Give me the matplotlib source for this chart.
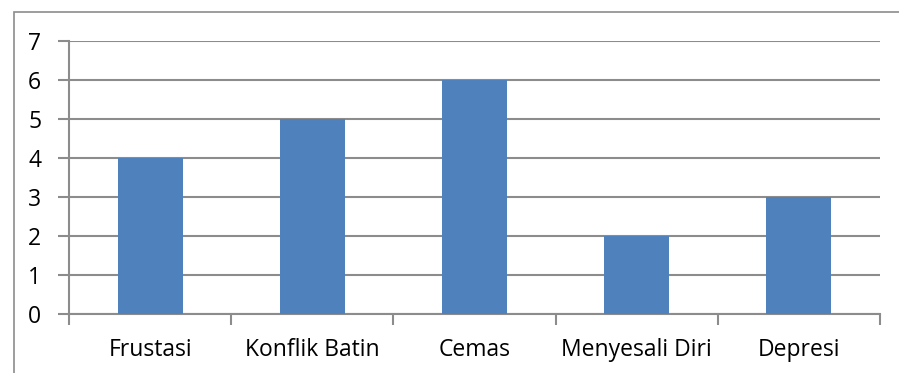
import numpy as np
import matplotlib.pyplot as plt
from matplotlib.patches import Rectangle

categories = ['Frustasi', 'Konflik Batin', 'Cemas', 'Menyesali Diri', 'Depresi']
values = [4, 5, 6, 2, 3]
yticks = [0, 1, 2, 3, 4, 5, 6, 7]

grid_color = '#8c8c8c'
bar_color = '#4f81bd'

plt.rcParams['font.family'] = ['Open Sans', 'DejaVu Sans']

W, H = 899, 373
fig = plt.figure(figsize=(W / 100, H / 100), dpi=100)
ax = fig.add_axes([69 / W, 1 - 314 / H, (880 - 69) / W, (314 - 41) / H])

x = np.arange(len(categories))
ax.bar(x, values, width=0.4, color=bar_color, zorder=3)

ax.set_xlim(-0.5, len(categories) - 0.5)
ax.set_ylim(0, 7)
ax.set_yticks(yticks)
ax.yaxis.grid(True, color=grid_color, linewidth=1.5, zorder=0)

# category labels sit between boundary ticks
ax.set_xticks(x)
ax.set_xticklabels(categories)
ax.tick_params(axis='x', length=0, labelsize=16.5, pad=17)
ax.set_xticks(np.arange(len(categories) + 1) - 0.5, minor=True)
ax.tick_params(axis='x', which='minor', length=8, width=1.5, color=grid_color)
ax.tick_params(axis='y', length=8, width=1.5, color=grid_color, labelsize=16.5, pad=12)

for side in ['top', 'right']:
    ax.spines[side].set_visible(False)
for side in ['left', 'bottom']:
    ax.spines[side].set_color(grid_color)
    ax.spines[side].set_linewidth(1.5)

# outer chart frame, clipped by the canvas on the right and bottom
fig.patches.append(Rectangle((14 / W, -0.1), 1.0, 1 - 12 / H + 0.1,
                             transform=fig.transFigure, fill=False,
                             edgecolor=grid_color, linewidth=1.2))

fig.savefig('out.png', dpi=100)
